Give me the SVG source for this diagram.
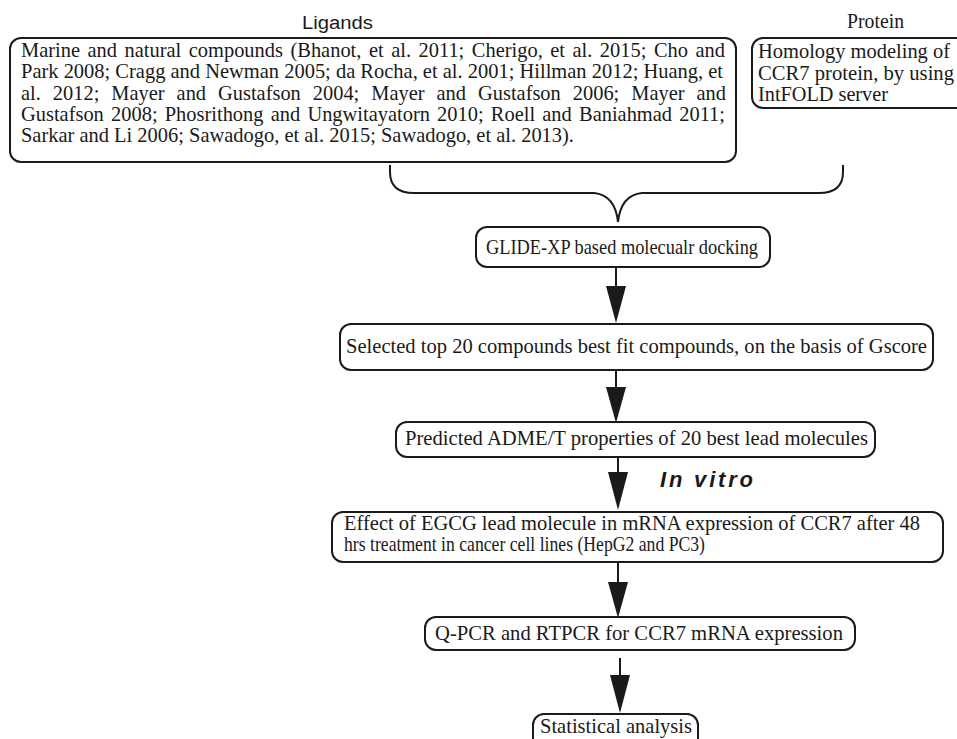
<svg xmlns="http://www.w3.org/2000/svg" width="957" height="739" viewBox="0 0 957 739">
<style>
  .box { fill: #ffffff; stroke: #1a1a1a; stroke-width: 2; }
  .t { font-family: "Liberation Serif", "Times New Roman", serif; font-size: 20.4px; fill: #1a1a1a; }
  .lab { font-family: "Liberation Sans", Arial, sans-serif; font-size: 18px; fill: #1a1a1a; }
  .iv { font-family: "Liberation Sans", Arial, sans-serif; font-size: 22px; font-weight: bold; font-style: italic; fill: #1a1a1a; }
  .ln { fill: none; stroke: #1a1a1a; stroke-width: 2; }
  .hd { fill: #1a1a1a; stroke: none; }
</style>
<rect width="957" height="739" fill="#ffffff"/>

<g id="ligands">
  <text class="lab" x="302" y="29" textLength="71" lengthAdjust="spacingAndGlyphs">Ligands</text>
  <rect class="box" x="10" y="38" width="726" height="124" rx="11" ry="11"/>
  <text class="t" x="21" y="57" word-spacing="2.4" textLength="704" lengthAdjust="spacingAndGlyphs">Marine and natural compounds (Bhanot, et al. 2011; Cherigo, et al. 2015; Cho and</text>
  <text class="t" x="21" y="78" textLength="702" lengthAdjust="spacingAndGlyphs">Park 2008; Cragg and Newman 2005; da Rocha, et al. 2001; Hillman 2012; Huang, et</text>
  <text class="t" x="21" y="100" word-spacing="6.9" textLength="705" lengthAdjust="spacingAndGlyphs">al. 2012; Mayer and Gustafson 2004; Mayer and Gustafson 2006; Mayer and</text>
  <text class="t" x="21" y="121" word-spacing="2.1" textLength="704" lengthAdjust="spacingAndGlyphs">Gustafson 2008; Phosrithong and Ungwitayatorn 2010; Roell and Baniahmad 2011;</text>
  <text class="t" x="21" y="142" textLength="553" lengthAdjust="spacingAndGlyphs">Sarkar and Li 2006; Sawadogo, et al. 2015; Sawadogo, et al. 2013).</text>
</g>

<g id="protein">
  <text class="t" x="847" y="28" font-size="19" textLength="57" lengthAdjust="spacingAndGlyphs">Protein</text>
  <rect class="box" x="752" y="38" width="230" height="70" rx="11" ry="11"/>
  <text class="t" x="758" y="58" textLength="192" lengthAdjust="spacingAndGlyphs">Homology modeling of</text>
  <text class="t" x="758" y="80" textLength="196" lengthAdjust="spacingAndGlyphs">CCR7 protein, by using</text>
  <text class="t" x="758" y="101" textLength="130" lengthAdjust="spacingAndGlyphs">IntFOLD server</text>
</g>

<g id="glide">
  <rect class="box" x="476" y="227" width="294" height="40" rx="11" ry="11"/>
  <text class="t" x="486" y="254" font-size="18.5" textLength="272" lengthAdjust="spacingAndGlyphs">GLIDE-XP based molecualr docking</text>
</g>

<g id="selected">
  <rect class="box" x="340" y="324" width="593" height="46" rx="11" ry="11"/>
  <text class="t" x="346" y="353" textLength="581" lengthAdjust="spacingAndGlyphs">Selected top 20 compounds best fit compounds, on the basis of Gscore</text>
</g>

<g id="adme">
  <rect class="box" x="396" y="422" width="479" height="35" rx="11" ry="11"/>
  <text class="t" x="405" y="445" textLength="463" lengthAdjust="spacingAndGlyphs">Predicted ADME/T properties of 20 best lead molecules</text>
</g>

<g id="invitro-label">
  <text class="iv" x="660" y="487" textLength="93" lengthAdjust="spacing">In vitro</text>
</g>

<g id="effect">
  <rect class="box" x="332" y="512" width="611" height="50" rx="11" ry="11"/>
  <text class="t" x="344" y="530" textLength="576" lengthAdjust="spacingAndGlyphs">Effect of EGCG lead molecule in mRNA expression of CCR7 after 48</text>
  <text class="t" x="344" y="551" font-size="18.8" textLength="361" lengthAdjust="spacingAndGlyphs">hrs treatment in cancer cell lines (HepG2 and PC3)</text>
</g>

<g id="qpcr">
  <rect class="box" x="425" y="617" width="430" height="33" rx="11" ry="11"/>
  <text class="t" x="435" y="640" textLength="408" lengthAdjust="spacingAndGlyphs">Q-PCR and RTPCR for CCR7 mRNA expression</text>
</g>

<g id="stat">
  <rect class="box" x="533" y="714" width="165" height="40" rx="11" ry="11"/>
  <text class="t" x="540" y="733" textLength="152" lengthAdjust="spacingAndGlyphs">Statistical analysis</text>
</g>

<g id="connectors">
  <path class="ln" d="M390,165 L390,172 Q390,193 414,193 L594,193 Q615,195 618,222 M618,222 Q621,195 642,193 L819,193 Q843,193 843,172 L843,165"/>
  <line class="ln" x1="616" y1="267" x2="616" y2="290"/>
  <path class="hd" d="M606,286 L626,286 L616,323 Z"/>
  <line class="ln" x1="616" y1="370" x2="616" y2="391"/>
  <path class="hd" d="M606,387 L626,387 L616,423 Z"/>
  <line class="ln" x1="618" y1="457" x2="618" y2="476"/>
  <path class="hd" d="M608,472 L628,472 L618,510 Z"/>
  <line class="ln" x1="618" y1="562" x2="618" y2="586"/>
  <path class="hd" d="M608,582 L628,582 L618,618 Z"/>
  <line class="ln" x1="620" y1="658" x2="620" y2="679"/>
  <path class="hd" d="M610,675 L630,675 L620,713 Z"/>
</g>
</svg>
